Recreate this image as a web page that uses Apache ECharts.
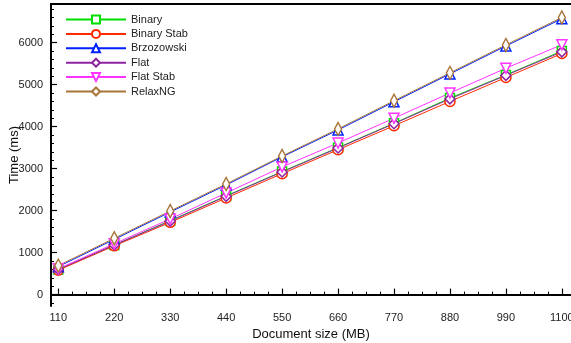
<!DOCTYPE html>
<html><head><meta charset="utf-8">
<script src="https://cdn.jsdelivr.net/npm/echarts@6/dist/echarts.min.js"></script>
<style>html,body{margin:0;padding:0;background:#fff}#c{width:571px;height:343px}</style>
</head><body><div id="c"></div>
<script>
const sizes = [110, 220, 330, 440, 550, 660, 770, 880, 990, 1100];
const binary     = [600, 1180, 1760, 2350, 2930, 3500, 4080, 4680, 5230, 5800];
const binaryStab = [580, 1160, 1720, 2300, 2880, 3450, 4020, 4600, 5170, 5740];
const brzozowski = [665, 1315, 1965, 2610, 3280, 3920, 4590, 5255, 5920, 6570];
const flat       = [600, 1180, 1750, 2340, 2920, 3490, 4070, 4660, 5220, 5780];
const flatStab   = [615, 1210, 1800, 2420, 3040, 3610, 4200, 4800, 5390, 5950];
const relaxNG    = [690, 1340, 1990, 2635, 3300, 3945, 4615, 5280, 5945, 6600];
const xTicks = [110, 220, 330, 440, 550, 660, 770, 880, 990, 1100];
const yTicks = [0, 1000, 2000, 3000, 4000, 5000, 6000];

const xMinor = []; for (let i = 0; i <= 36; i++) { const v = 110 + i * 27.5; if (v % 110 !== 0) xMinor.push(v); }
const yMinor = []; for (let v = -200; v <= 6800; v += 200) { if (v % 1000 !== 0) yMinor.push(v); }

const font = 'Liberation Sans, Arial, Helvetica, sans-serif';
function mk(name, data, color, symbol, size, rotate) {
  return {
    name, type: 'line', data: sizes.map((s, i) => [s, data[i]]),
    symbol, symbolSize: size, symbolRotate: rotate || 0, showSymbol: true,
    lineStyle: { color, width: 1 },
    itemStyle: { color: '#fff', borderColor: color, borderWidth: 1.5 },
    emphasis: { disabled: true }, animation: false, z: 2
  };
}
const plain = v => String(v);
const chart = echarts.init(document.getElementById('c'));
chart.setOption({
  animation: false,
  textStyle: { fontFamily: font },
  grid: { left: 51, right: 0, top: 4, bottom: 37, containLabel: false, outerBoundsMode: 'none' },
  legend: {
    orient: 'vertical', left: 65, top: 14, padding: 0, itemWidth: 60, itemHeight: 10, itemGap: 3.4,
    textStyle: { fontSize: 11, color: '#222', fontFamily: font, lineHeight: 11 },
    data: ['Binary', 'Binary Stab', 'Brzozowski', 'Flat', 'Flat Stab', 'RelaxNG']
  },
  xAxis: [
    { type: 'value', position: 'bottom', min: 95.6, max: 1118,
      name: 'Document size (MB)', nameLocation: 'middle', nameGap: 22,
      nameTextStyle: { fontSize: 13, color: '#111', fontFamily: font },
      axisLine: { show: true, lineStyle: { color: '#000', width: 2 } },
      axisTick: { show: true, inside: true, length: 6, customValues: xTicks, lineStyle: { color: '#000', width: 1.2 } },
      axisLabel: { customValues: xTicks, formatter: plain, fontSize: 11, color: '#222', margin: 6 },
      splitLine: { show: false } },
    { type: 'value', position: 'bottom', min: 95.6, max: 1118,
      axisLine: { show: false },
      axisTick: { show: true, inside: true, length: 3, customValues: xMinor, lineStyle: { color: '#000', width: 1 } },
      axisLabel: { show: false }, splitLine: { show: false } },
    { type: 'value', position: 'top', min: 95.6, max: 1118,
      axisLine: { show: true, lineStyle: { color: '#000', width: 2 } },
      axisTick: { show: false }, axisLabel: { show: false }, splitLine: { show: false } }
  ],
  yAxis: [
    { type: 'value', position: 'left', min: -272, max: 6920,
      name: 'Time (ms)', nameLocation: 'middle', nameGap: 30, nameRotate: 90, nameMoveOverlap: false,
      nameTextStyle: { fontSize: 13, color: '#111', fontFamily: font },
      axisLine: { show: true, lineStyle: { color: '#000', width: 2 } },
      axisTick: { show: true, inside: true, length: 6, customValues: yTicks, lineStyle: { color: '#000', width: 1.2 } },
      axisLabel: { customValues: yTicks, formatter: plain, fontSize: 11, color: '#222', margin: 8 },
      splitLine: { show: false } },
    { type: 'value', position: 'left', min: -272, max: 6920,
      axisLine: { show: false },
      axisTick: { show: true, inside: true, length: 3, customValues: yMinor, lineStyle: { color: '#000', width: 1 } },
      axisLabel: { show: false }, splitLine: { show: false } }
  ],
  series: [
    mk('Binary', binary, '#00dd00', 'rect', 9),
    mk('Binary Stab', binaryStab, '#ff2a00', 'circle', 10),
    mk('Brzozowski', brzozowski, '#0022ff', 'triangle', 10),
    mk('Flat', flat, '#8e24a0', 'diamond', 10),
    mk('Flat Stab', flatStab, '#ff33ff', 'triangle', 10, 180),
    mk('RelaxNG', relaxNG, '#a8743a', 'diamond', [7, 13])
  ]
});
</script></body></html>
